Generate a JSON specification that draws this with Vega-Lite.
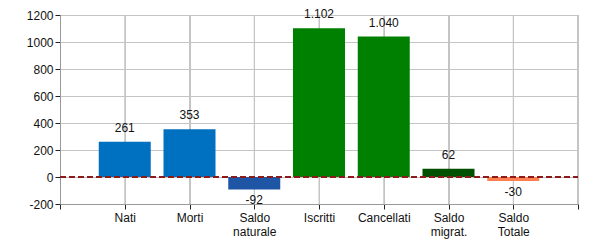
{
  "$schema": "https://vega.github.io/schema/vega-lite/v6.json",
  "width": 518,
  "height": 189,
  "autosize": {"type": "none"},
  "padding": {"left": 60, "top": 15, "right": 22, "bottom": 46},
  "background": "white",
  "config": {
    "view": {"stroke": null},
    "font": "Liberation Sans",
    "locale": {"number": {"decimal": ",", "thousands": ".", "grouping": [3], "currency": ["€", ""], "minus": "-"}},
    "axis": {"labelFont": "Liberation Sans", "labelFontSize": 12, "labelColor": "#111", "domainColor": "#999", "tickColor": "#222", "gridColor": "#c4c4c4", "gridWidth": 1, "gridOpacity": 1, "grid": true, "labelOverlap": false}
  },
  "data": {"values": [
    {"cat": "Nati", "pos": 1, "value": 261},
    {"cat": "Morti", "pos": 2, "value": 353},
    {"cat": "Saldo naturale", "pos": 3, "value": -92},
    {"cat": "Iscritti", "pos": 4, "value": 1102},
    {"cat": "Cancellati", "pos": 5, "value": 1040},
    {"cat": "Saldo migrat.", "pos": 6, "value": 62},
    {"cat": "Saldo Totale", "pos": 7, "value": -30}
  ]},
  "encoding": {
    "x": {"field": "pos", "type": "quantitative",
      "scale": {"domain": [0, 8], "nice": false, "zero": false, "padding": 0},
      "axis": {"values": [0,1,2,3,4,5,6,7,8], "title": null, "grid": true, "tickSize": 5, "labelPadding": 3,
        "labelExpr": "datum.value==1?'Nati':datum.value==2?'Morti':datum.value==3?['Saldo','naturale']:datum.value==4?'Iscritti':datum.value==5?'Cancellati':datum.value==6?['Saldo','migrat.']:datum.value==7?['Saldo','Totale']:''"}}
  },
  "layer": [
    {"mark": {"type": "rule", "color": "#c4c4c4", "strokeWidth": 1},
      "encoding": {}},
    {"mark": {"type": "rule", "color": "#c4c4c4", "strokeWidth": 1},
      "encoding": {"x": {"datum": 8}}},
    {"mark": {"type": "bar", "width": 52},
      "encoding": {
        "y": {"field": "value", "type": "quantitative",
          "scale": {"domain": [-200, 1200], "nice": false},
          "axis": {"values": [-200,0,200,400,600,800,1000,1200], "title": null, "format": "d", "tickSize": 5, "labelPadding": 2, "grid": true}},
        "color": {"field": "cat", "type": "nominal", "legend": null,
        "scale": {"domain": ["Nati","Morti","Saldo naturale","Iscritti","Cancellati","Saldo migrat.","Saldo Totale"],
          "range": ["#0070C0","#0070C0","#1F55A5","#008000","#008000","#005000","#FF7F50"]}}}},
    {"transform": [{"filter": "datum.value >= 0"}],
      "mark": {"type": "text", "baseline": "bottom", "dy": -7, "fontSize": 12, "color": "#111"},
      "encoding": {"y": {"field": "value", "type": "quantitative",
          "axis": {"values": [-200,0,200,400,600,800,1000,1200], "title": null, "format": "d", "tickSize": 5, "labelPadding": 2, "grid": true}},
        "text": {"field": "value", "type": "quantitative", "format": ",d"}}},
    {"transform": [{"filter": "datum.value < 0"}],
      "mark": {"type": "text", "baseline": "top", "dy": 6, "fontSize": 12, "color": "#111"},
      "encoding": {"y": {"field": "value", "type": "quantitative",
          "axis": {"values": [-200,0,200,400,600,800,1000,1200], "title": null, "format": "d", "tickSize": 5, "labelPadding": 2, "grid": true}},
        "text": {"field": "value", "type": "quantitative", "format": ",d"}}},
    {"mark": {"type": "rule", "color": "#8B1A1A", "strokeDash": [6, 3], "strokeWidth": 2},
      "encoding": {"y": {"datum": 0,
          "axis": {"values": [-200,0,200,400,600,800,1000,1200], "title": null, "format": "d", "tickSize": 5, "labelPadding": 2, "grid": true}},
        "x": {"datum": 0}, "x2": {"datum": 8}}}
  ]
}
